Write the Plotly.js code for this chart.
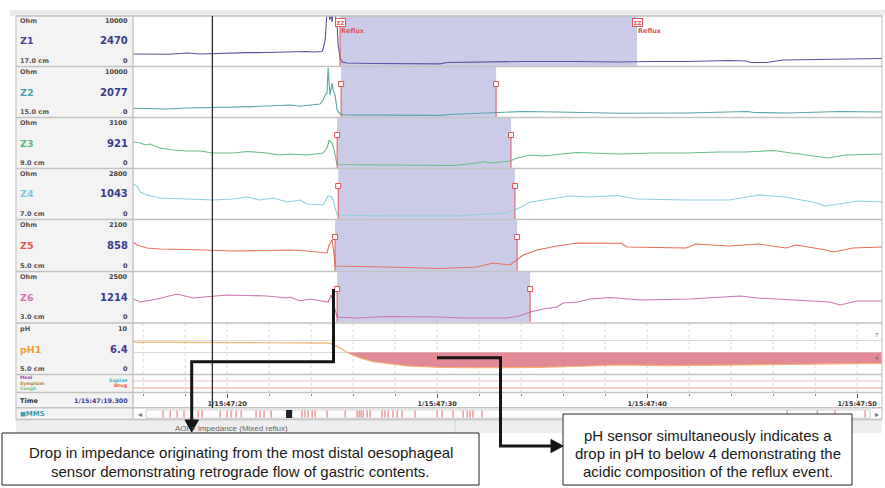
<!DOCTYPE html>
<html><head><meta charset="utf-8">
<script src="https://cdn.plot.ly/plotly-3.0.1.min.js"></script>
<style>html,body{margin:0;padding:0;background:#fff;}#chart{width:885px;height:488px;}</style>
</head><body><div id="chart"></div>
<script>
// ---------------- DATA ----------------
const channelNames = ['Z1','Z2','Z3','Z4','Z5','Z6','pH1'];
const channelUnits = ['Ohm','Ohm','Ohm','Ohm','Ohm','Ohm','pH'];
const channelMax = [10000,10000,3100,2800,2100,2500,10];
const channelPos = ['17.0 cm','15.0 cm','9.0 cm','7.0 cm','5.0 cm','3.0 cm','5.0 cm'];
const cursorValues = ['2470','2077','921','1043','858','1214','6.4'];
const cursorTime = 19.3;              // seconds after 1/15:47
const cursorLabel = '1/15:47:19.300';
const timeTicks = [20,30,40,50];
const timeTickLabels = ['1/15:47:20','1/15:47:30','1/15:47:40','1/15:47:50'];

// impedance channels (time in s after 47:00, value in Ohm)
const z1T = [15.52,16.2,17.14,17.6,18.1,18.71,19.33,19.9,20.29,21.0,21.9,22.67,23.0,23.48,23.81,24.1,24.52,24.57,24.67,24.76,24.81,24.9,24.95,25.0,25.05,25.14,25.24,25.29,25.38,25.48,25.71,26.95,28.57,30.14,30.48,31.71,34.1,36.67,38.67,40.29,41.86,43.9,44.71,44.95,45.67,46.48,48.19,49.81,51.19];
const z1V = [2380,2330,2310,2450,2620,2380,2500,2600,2740,2700,2740,2860,2790,2860,2975,2860,2975,3570,5710,12500,12500,10500,12500,10000,12500,12000,9280,4520,1430,480,240,120,30,30,360,480,600,600,480,600,600,830,720,360,360,950,1070,1190,1310];
const z2T = [15.52,16.5,17.14,18.1,19.33,20.29,21.2,21.9,23.0,23.48,23.81,24.43,24.57,24.67,24.76,24.81,24.9,25.0,25.05,25.14,25.24,25.38,25.52,27.62,30.14,30.62,31.9,32.86,34.1,35.71,37.29,38.71,41.9,44.76,45.1,46.67,49.2,51.19];
const z2V = [1600,1500,1430,1670,1740,1900,2000,2140,2380,2070,2260,2620,3570,4760,5240,11190,4760,7620,5950,4760,1190,240,30,-80,-80,120,360,600,830,710,600,400,480,830,600,480,830,710];
const z3T = [15.52,15.86,16.1,16.33,16.81,17.43,18.1,18.71,19.33,20.29,20.95,21.9,22.52,23.0,23.81,24.57,24.76,24.86,25.0,25.1,25.19,25.24,27.62,30.81,31.9,32.19,32.52,33.48,33.81,34.43,35.05,36.0,36.67,37.29,38.71,40.29,41.86,43.43,44.71,46.0,46.57,47.52,48.62,49.43,51.19];
const z3V = [1790,1700,1550,1620,1330,1180,1110,1110,960,960,1070,960,810,890,810,960,1330,1920,1700,1180,440,110,70,40,220,330,220,370,590,810,740,890,1000,960,890,960,960,1030,1030,1140,1030,810,590,810,890];
const z4T = [15.52,15.71,15.86,16.19,16.81,18.1,19.33,20.29,20.95,21.57,22.19,22.86,23.48,23.81,24.57,24.81,25.0,25.1,25.24,27.62,30.81,32.05,33.33,33.81,34.43,34.76,35.38,36.33,37.29,38.57,39.52,41.86,43.9,45.33,46.57,47.86,48.48,49.43,50.05,51.19];
const z4V = [2200,2070,1670,1470,1270,1200,1130,1200,1330,1130,1270,1000,1130,870,800,1400,1330,870,130,70,70,170,270,530,1000,1070,1200,1400,1330,1430,1200,1130,1130,1470,1330,1000,730,930,1070,1000];
const z5T = [15.52,15.71,16.19,16.81,18.1,18.71,19.33,20.29,21.9,23.0,23.81,24.76,24.86,25.0,25.1,25.14,27.62,30.14,31.9,32.67,33.48,33.81,34.1,34.76,35.71,36.67,37.43,38.76,39.05,41.86,42.33,43.9,45.33,46.62,47.1,48.52,48.86,49.81,51.19];
const z5V = [1365,1200,1050,1000,975,950,925,900,925,950,900,800,1200,1450,700,150,100,25,100,300,200,450,700,950,1150,1300,1300,1285,1100,1050,1250,1150,1250,1050,1200,950,850,1050,1100];
const z6T = [15.52,15.86,16.67,17.62,18.38,19.33,20.0,21.9,22.86,23.0,23.48,23.95,24.81,24.95,25.05,25.24,26.19,27.62,30.14,31.24,33.29,33.9,34.43,35.05,35.71,36.0,36.67,37.29,38.24,39.67,42.05,44.43,45.24,46.81,48.71,49.19,50.0,51.19];
const z6V = [1250,1070,1250,1550,1310,1430,1490,1430,1310,1370,1130,1250,1070,1490,1070,180,120,210,180,120,120,240,480,650,770,1010,1070,1250,1340,1190,1250,1430,1310,1190,1070,890,1130,1130];

// pH channel
const phT = [15.52,17.5,19.33,21.9,23.5,24.9,25.38,25.86,26.33,26.95,28.57,30.14,31.71,33.33,34.9,37.29,38.6,41.0,42.52,45.0,47.29,51.19];
const phV = [6.55,6.45,6.4,6.4,6.38,6.3,5.1,3.66,2.7,1.78,0.73,0.4,0.3,0.3,0.4,0.73,0.98,0.8,0.9,1.15,1.3,1.39];
const acidThreshold = 4;

// reflux detection per impedance channel (s)
const refluxStart = [25.38,25.43,25.24,25.29,25.14,25.24];
const refluxEnd   = [39.52,32.81,33.52,33.71,33.81,34.43];
const refluxTag = 'ZZ';
const refluxText = 'Reflux';

// MMS overview event marks (s) and scroll thumb
const mmsMarks = [16.95,17.29,17.62,17.95,18.62,18.81,19.67,20.0,20.19,20.43,20.67,21.38,21.57,21.76,22.1,23.57,23.71,23.86,24.05,24.19,24.76,25.62,26.19,26.29,26.38,26.48,26.67,26.81,27.38,27.52,27.67,27.9,28.1,28.33,28.95,30.0,30.24,30.76,31.24,31.43,31.57,31.71,32.14,46.67,48.1,48.95,50.38];
const mmsThumb = [22.81,23.1];

const eventLabelsLeft = ['Meal','Symptom','Cough'];
const eventLabelsRight = ['Supine','Drug'];
const aoiText = 'AOI = impedance (Mixed reflux)';
const note1 = ['Drop in impedance originating from the most distal oesophageal','sensor demonstrating retrograde flow of gastric contents.'];
const note2 = ['pH sensor simultaneously indicates a','drop in pH to below 4 demonstrating the','acidic composition of the reflux event.'];

// ---------------- STYLE / LAYOUT ----------------
const zT = [z1T,z2T,z3T,z4T,z5T,z6T];
const zV = [z1V,z2V,z3V,z4V,z5V,z6V];
const lineColors = ['#5652a2','#58a4a6','#68bd8a','#8fcfe3','#e56f5b','#c976ae'];
const nameColors = ['#47449a','#4f9ea8','#5cb887','#7dcbe0','#e4574a','#d474b0','#f0a030'];
const phColor = '#f4b271';
const W=885, H=488;
const fx = x => x/W, fy = y => 1 - y/H;
const rowPix = [[16,66],[67,117],[118,168],[169,219],[220,271],[272,322],[324,374],[375,392],[393,407],[409,419]];
const seps = [16,66.5,117.5,168.5,219.5,271.5,323,374.5,392.5,407.8,419.5];
const XL=133, XR=882;
const xRange = [15.52, 15.52 + (XR-XL)/21];
const yName = i => i===0 ? 'y' : 'y'+(i+1);
const yKey = i => i===0 ? 'yaxis' : 'yaxis'+(i+1);

const layout = {
  width:W, height:H, margin:{l:0,r:0,t:0,b:0},
  paper_bgcolor:'#ffffff', plot_bgcolor:'rgba(0,0,0,0)', showlegend:false,
  xaxis:{domain:[fx(XL),fx(XR)], range:xRange, anchor:'free', position:fy(392.5), side:'bottom', zeroline:false, showline:false,
    tickmode:'array', tickvals:timeTicks, ticktext:timeTickLabels, ticks:'outside', ticklen:4, tickwidth:1, tickcolor:'#555',
    tickfont:{family:'DejaVu Sans', size:6.5, color:'#333', weight:'bold'}, ticklabelstandoff:1,
    showgrid:false,
    minor:{dtick:2, tick0:0, ticks:'outside', ticklen:2, tickcolor:'#888', showgrid:false},
    fixedrange:true},
  xaxis2:{domain:[fx(XL),fx(XR)], range:xRange, anchor:'y9', visible:false, showgrid:false, fixedrange:true},
  shapes:[], annotations:[]
};
for (let i=0;i<6;i++){
  const [t,b]=rowPix[i], h=b-t, m=channelMax[i];
  layout[yKey(i)] = {domain:[fy(b),fy(t)], range:[-2/42*m,(h-2)/42*m], anchor:'x', showgrid:false, zeroline:false, showticklabels:false, ticks:'', fixedrange:true};
}
{ const [t,b]=rowPix[6], h=b-t;
  layout.yaxis7 = {domain:[fy(b),fy(t)], range:[-5/4.1,(h-5)/4.1], anchor:'x', tickmode:'array', tickvals:[4,7], showgrid:true, gridcolor:'#dcdcdc', gridwidth:1, zeroline:false, showticklabels:false, ticks:'', fixedrange:true}; }
{ const [t,b]=rowPix[9];
  layout.yaxis9 = {domain:[fy(b),fy(t)], range:[0,1], anchor:'x2', showgrid:false, zeroline:false, showticklabels:false, ticks:'', fixedrange:true}; }

const shapes = layout.shapes, ann = layout.annotations;
const line = (x0,y0,x1,y1,color,width,extra) => shapes.push(Object.assign({type:'line',xref:'paper',yref:'paper',x0:fx(x0),y0:fy(y0),x1:fx(x1),y1:fy(y1),line:{color,width}},extra||{}));
const rect = (x0,y0,x1,y1,fill,lc,lw,extra) => shapes.push(Object.assign({type:'rect',xref:'paper',yref:'paper',x0:fx(x0),y0:fy(y1),x1:fx(x1),y1:fy(y0),fillcolor:fill,line:{color:lc||'rgba(0,0,0,0)',width:lw||0}},extra||{}));
const txt = (x,y,t,o) => { o=o||{}; const f=Object.assign({family:'DejaVu Sans',size:6.5,color:'#555'},o.font||{}); delete o.font;
  ann.push(Object.assign({xref:'paper',yref:'paper',x:fx(x),y:fy(y),text:t,showarrow:false,xanchor:'left',yanchor:'middle',borderpad:0,font:f},o)); };

// chrome backgrounds
rect(10,10,885,16,'#ececec',null,0,{layer:'below'});
rect(16,16,XL,419.5,'#f3f3f3',null,0,{layer:'below'});
rect(16,419.5,XR,433,'#eeeeee',null,0,{layer:'below'});
line(455,420,455,433,'#d0d0d0',1);

// dotted time grid in pH / event rows (every 2 s)
for (let g=16; g<=50; g+=2){
  shapes.push({type:'line',xref:'x',yref:'paper',x0:g,x1:g,y0:fy(392),y1:fy(324),line:{color:'#dadada',width:1,dash:'dot'},layer:'below'});
}

// reflux shading + markers
const red = '#e05555';
for (let i=0;i<6;i++){
  const [t,b]=rowPix[i];
  shapes.push({type:'rect',xref:'x',yref:yName(i)+' domain',x0:refluxStart[i],x1:refluxEnd[i],y0:0,y1:1,fillcolor:'rgba(140,140,205,0.45)',line:{width:0},layer:'below'});
  const edges = i===0 ? [refluxStart[i]] : [refluxStart[i],refluxEnd[i]];
  const my = i===0 ? 24 : t+17;
  edges.forEach(e=>{
    shapes.push({type:'line',xref:'x',yref:'paper',x0:e,x1:e,y0:fy(b),y1:fy(my),line:{color:red,width:1}});
    if(i>0) shapes.push({type:'rect',xref:'x',yref:'paper',xsizemode:'pixel',ysizemode:'pixel',xanchor:e,yanchor:fy(my),x0:-2.5,x1:2.5,y0:-2.5,y1:2.5,fillcolor:'#fff',line:{color:red,width:1}});
  });
}
[refluxStart[0],refluxEnd[0]].forEach(e=>{
  ann.push({xref:'x',yref:'paper',x:e,y:fy(22.5),text:'<b>'+refluxTag+'</b>',showarrow:false,xanchor:'center',yanchor:'middle',font:{family:'DejaVu Sans',size:5.5,color:red},bordercolor:red,borderwidth:1,borderpad:0.5,bgcolor:'#fff'});
  ann.push({xref:'x',yref:'paper',x:e,y:fy(31),text:'<b>'+refluxText+'</b>',showarrow:false,xanchor:'left',yanchor:'middle',xshift:-1,font:{family:'DejaVu Sans',size:6.5,color:red}});
});

// events row lines
line(XL,381,XR,381,'#f2c4cc',1.2);
line(XL,388,XR,388,'#f2a28e',1.2);

// MMS track
rect(146,410,870,418,'#ffffff','#cfcfcf',1,{layer:'below'});
shapes.push({type:'rect',xref:'x2',yref:'paper',x0:mmsThumb[0],x1:mmsThumb[1],y0:fy(418),y1:fy(410),fillcolor:'#222',line:{width:0}});
txt(137,414,'◂',{font:{size:8,color:'#777'}});
txt(874,414,'▸',{font:{size:8,color:'#777'}});

// separators
seps.forEach(y=>line(16,y,XR,y,'#c2c2c2',1.6));
line(16,16,16,419.5,'#c8c8c8',1.2);
line(XL,16,XL,419.5,'#c2c2c2',1.4);
line(XR,16,XR,419.5,'#c8c8c8',1.2);

// cursor
shapes.push({type:'line',xref:'x',yref:'paper',x0:cursorTime,x1:cursorTime,y0:fy(408),y1:fy(16),line:{color:'#2a2a2a',width:1.3}});

// panel labels
for (let i=0;i<7;i++){
  const [t,b]=rowPix[i];
  txt(19,t+5,'<b>'+channelUnits[i]+'</b>',{font:{color:'#555'}});
  txt(129,t+5,'<b>'+channelMax[i]+'</b>',{xanchor:'right',font:{color:'#444'}});
  txt(19,t+25,'<b>'+channelNames[i]+'</b>',{font:{size:9.5,color:nameColors[i]}});
  txt(129,t+25,'<b>'+cursorValues[i]+'</b>',{xanchor:'right',font:{size:10,color:'#3b3b8e'}});
  txt(19,b-5,'<b>'+channelPos[i]+'</b>',{font:{color:'#555'}});
  txt(129,b-5,'<b>0</b>',{xanchor:'right',font:{color:'#444'}});
}
txt(880,335,'7',{xanchor:'right',font:{size:5.5,color:'#666'}});
txt(880,357.5,'4',{xanchor:'right',font:{size:5.5,color:'#666'}});
const evColL = ['#a044a8','#b8883a','#72c472'], evColR = ['#3fb0c8','#e85050'];
eventLabelsLeft.forEach((s,k)=>txt(19,377.8+k*5.3,'<b>'+s+'</b>',{font:{size:4.6,color:evColL[k]}}));
eventLabelsRight.forEach((s,k)=>txt(129,380+k*6,'<b>'+s+'</b>',{xanchor:'right',font:{size:4.8,color:evColR[k]}}));
txt(19,400.5,'<b>Time</b>',{font:{size:6.5,color:'#333'}});
txt(129,400.5,'<b>'+cursorLabel+'</b>',{xanchor:'right',font:{size:6.3,color:'#3b3b8e'}});
txt(19,413.8,'<b>◼MMS</b>',{font:{size:7,color:'#3aa0b4'}});
txt(231,428.5,aoiText,{xanchor:'center',font:{family:'Liberation Sans',size:8,color:'#666'}});

// note boxes and arrows
rect(2,433,479,485,'#ffffff','#222',1);
rect(563,414,852,485,'#ffffff','#222',1);
note1.forEach((s,k)=>txt(240.5,452.7+k*19,s,{xanchor:'center',font:{family:'Liberation Sans',size:15,color:'#1a1a1a'}}));
note2.forEach((s,k)=>txt(707.5,435+k*18.3,s,{xanchor:'center',font:{family:'Liberation Sans',size:15,color:'#1a1a1a'}}));
const P = pts => pts.map((p,k)=>(k?'L':'M')+fx(p[0])+','+fy(p[1])).join(' ');
shapes.push({type:'path',xref:'paper',yref:'paper',path:P([[333.5,289],[333.5,361.7],[191.7,361.7],[191.7,421]]),line:{color:'#151515',width:3}});
shapes.push({type:'path',xref:'paper',yref:'paper',path:P([[185,420],[198.4,420],[191.7,432]])+' Z',fillcolor:'#151515',line:{color:'#151515',width:1}});
shapes.push({type:'path',xref:'paper',yref:'paper',path:P([[437,357.7],[500.5,357.7],[500.5,446],[552,446]]),line:{color:'#151515',width:3}});
shapes.push({type:'path',xref:'paper',yref:'paper',path:P([[551,439.5],[551,452.5],[563,446]])+' Z',fillcolor:'#151515',line:{color:'#151515',width:1}});

// ---------------- TRACES ----------------
const traces = [];
for (let i=0;i<6;i++){
  traces.push({type:'scatter',mode:'lines',x:zT[i],y:zV[i],xaxis:'x',yaxis:yName(i),line:{color:lineColors[i],width:1.1},hoverinfo:'skip'});
}
// acid exposure fill (pH below threshold)
const ax=[], ay=[];
for (let k=0;k<phT.length;k++){
  if (phV[k] < acidThreshold){
    if (!ax.length && k>0){ const f=(phV[k-1]-acidThreshold)/(phV[k-1]-phV[k]); ax.push(phT[k-1]+f*(phT[k]-phT[k-1])); ay.push(acidThreshold); }
    ax.push(phT[k]); ay.push(phV[k]);
  }
}
ax.push(ax[ax.length-1]); ay.push(acidThreshold);
traces.push({type:'scatter',mode:'lines',x:ax,y:ay,xaxis:'x',yaxis:'y7',fill:'toself',fillcolor:'rgba(216,104,118,0.78)',line:{width:0},hoverinfo:'skip'});
traces.push({type:'scatter',mode:'lines',x:phT,y:phV,xaxis:'x',yaxis:'y7',line:{color:phColor,width:1.2},hoverinfo:'skip'});
traces.push({type:'scatter',mode:'markers',x:mmsMarks,y:mmsMarks.map(()=>0.5),xaxis:'x2',yaxis:'y9',marker:{symbol:'line-ns',size:5,line:{color:'#e46a6a',width:1}},hoverinfo:'skip'});

Plotly.newPlot('chart',traces,layout,{staticPlot:true,displayModeBar:false});
</script></body></html>
